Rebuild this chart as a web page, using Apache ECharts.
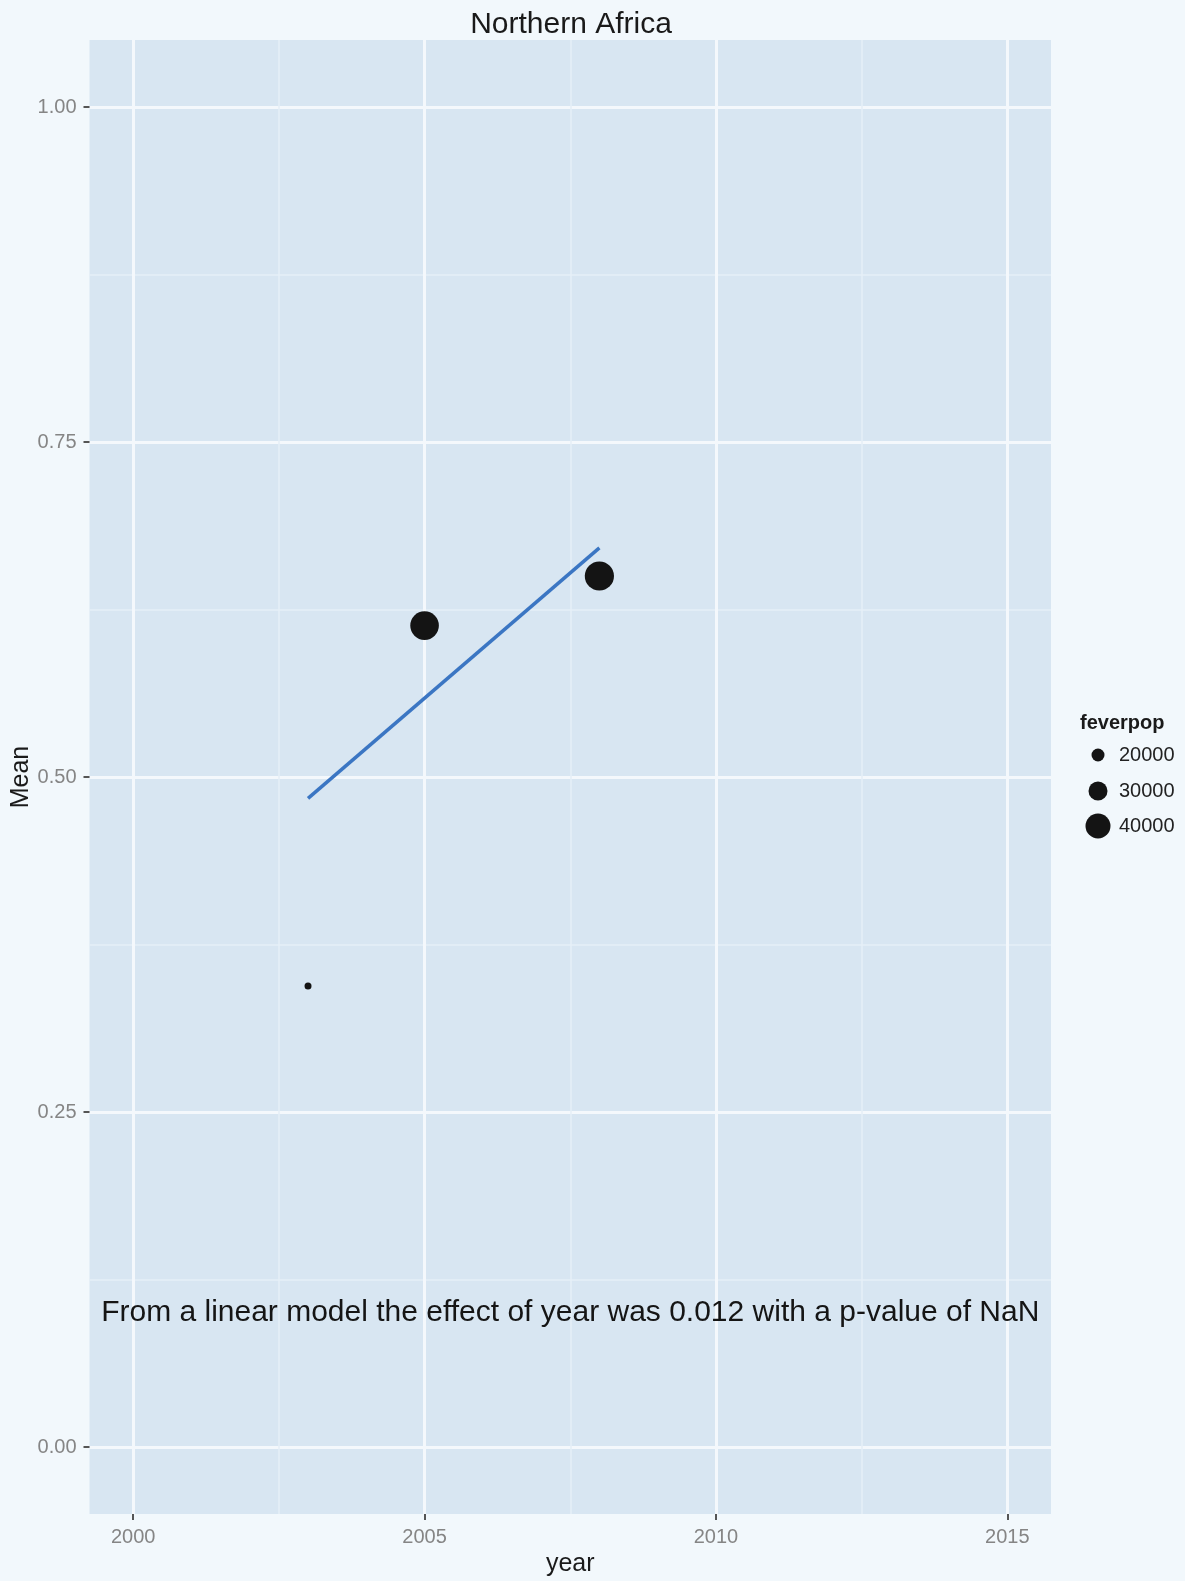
<!DOCTYPE html>
<html>
<head>
<meta charset="utf-8">
<script src="https://cdn.jsdelivr.net/npm/echarts@6/dist/echarts.min.js"></script>
<style>
html,body{margin:0;padding:0;background:#F2F8FC;}
#chart{width:1185px;height:1581px;}
</style>
</head>
<body>
<div id="chart"></div>
<script>
// ---- data ----
const years = [2003, 2005, 2008];
const meanValues = [0.344, 0.613, 0.650];
const feverpop = [10000, 46000, 47000];
const fitYears = [2003, 2008];
const fitValues = [0.484, 0.671];
const xMajorTicks = [2000, 2005, 2010, 2015];
const xMinorTicks = [2002.5, 2007.5, 2012.5];
const yMajorTicks = [0, 0.25, 0.5, 0.75, 1.0];
const yMinorTicks = [0.125, 0.375, 0.625, 0.875];
const legendBreaks = [20000, 30000, 40000];
const annotationText = 'From a linear model the effect of year was 0.012 with a p-value of NaN';
const annotationPos = [2007.5, 0.1];

function sizeOf(v) { return 1 + 0.6 * v / 1000; }

const chart = echarts.init(document.getElementById('chart'), null, {renderer: 'canvas'});
const FONT = 'Liberation Sans, Arial, sans-serif';
const grid = {left: 89.5, right: 1185 - 1051, top: 40, bottom: 1581 - 1514,
  backgroundColor: '#D8E6F2', show: true, borderWidth: 0, containLabel: false, outerBoundsMode: 'none'};
const xRange = {min: 1999.25, max: 2015.75};
const yRange = {min: -0.05, max: 1.05};

const legendGraphics = [{
  type: 'text', left: 1080, top: 713,
  style: {text: 'feverpop', font: 'bold 20px ' + FONT, fill: '#1a1a1a'}
}];
const legendY = [755, 791, 826];
legendBreaks.forEach((b, i) => {
  const r = sizeOf(b) / 2;
  legendGraphics.push({type: 'circle', shape: {cx: 1098, cy: legendY[i], r: r}, style: {fill: '#141414'}});
  legendGraphics.push({type: 'text', left: 1119, top: legendY[i] - 10,
    style: {text: String(b), font: '20px ' + FONT, fill: '#222'}});
});

const option = {
  backgroundColor: '#F2F8FC',
  animation: false,
  title: {
    text: 'Northern Africa', left: 571, top: 10, padding: 0, textAlign: 'center',
    textStyle: {fontFamily: FONT, fontSize: 30, fontWeight: 'normal', color: '#1a1a1a'}
  },
  grid: grid,
  xAxis: [{
    type: 'value', min: xRange.min, max: xRange.max, position: 'bottom',
    name: 'year', nameLocation: 'middle', nameGap: 35,
    nameTextStyle: {fontFamily: FONT, fontSize: 25, color: '#1a1a1a'},
    axisLine: {show: false, onZero: false},
    axisTick: {show: true, length: 6, lineStyle: {color: '#555', width: 2}, customValues: xMajorTicks},
    axisLabel: {show: true, margin: 13, fontFamily: FONT, fontSize: 20, color: '#858585',
      customValues: xMajorTicks, formatter: v => String(Math.round(v))},
    splitLine: {show: true, lineStyle: {color: '#F4F8FC', width: 3}}
  }, {
    type: 'value', min: xRange.min, max: xRange.max, position: 'top',
    axisLine: {show: false, onZero: false},
    axisTick: {show: false, customValues: xMinorTicks},
    axisLabel: {show: false, customValues: xMinorTicks},
    splitLine: {show: true, lineStyle: {color: '#E6EFF7', width: 1.5}}
  }],
  yAxis: [{
    type: 'value', min: yRange.min, max: yRange.max, position: 'left',
    name: 'Mean', nameLocation: 'middle', nameGap: 56, nameMoveOverlap: false,
    nameTextStyle: {fontFamily: FONT, fontSize: 25, color: '#1a1a1a'},
    axisLine: {show: false, onZero: false},
    axisTick: {show: true, length: 6, lineStyle: {color: '#555', width: 2}, customValues: yMajorTicks},
    axisLabel: {show: true, margin: 13, fontFamily: FONT, fontSize: 20, color: '#858585',
      customValues: yMajorTicks, formatter: v => v.toFixed(2)},
    splitLine: {show: true, lineStyle: {color: '#F4F8FC', width: 3}}
  }, {
    type: 'value', min: yRange.min, max: yRange.max, position: 'right',
    axisLine: {show: false, onZero: false},
    axisTick: {show: false, customValues: yMinorTicks},
    axisLabel: {show: false, customValues: yMinorTicks},
    splitLine: {show: true, lineStyle: {color: '#E6EFF7', width: 1.5}}
  }],
  series: [{
    type: 'line',
    xAxisIndex: 0, yAxisIndex: 0,
    data: fitYears.map((y, i) => [y, fitValues[i]]),
    showSymbol: false, symbol: 'none',
    lineStyle: {color: '#3B76C3', width: 3.5},
    z: 2
  }, {
    type: 'scatter',
    xAxisIndex: 0, yAxisIndex: 0,
    data: years.map((y, i) => [y, meanValues[i], feverpop[i]]),
    symbolSize: d => sizeOf(d[2]),
    itemStyle: {color: '#141414', opacity: 1},
    z: 3
  }, {
    type: 'scatter',
    xAxisIndex: 0, yAxisIndex: 0,
    data: [annotationPos],
    symbolSize: 0,
    silent: true,
    itemStyle: {opacity: 1, color: '#151515'},
    label: {show: true, position: [0, 0], align: 'center', verticalAlign: 'middle',
      formatter: annotationText, fontFamily: FONT, fontSize: 30, color: '#151515', opacity: 1},
    z: 4
  }],
  graphic: legendGraphics
};
chart.setOption(option);
</script>
</body>
</html>
